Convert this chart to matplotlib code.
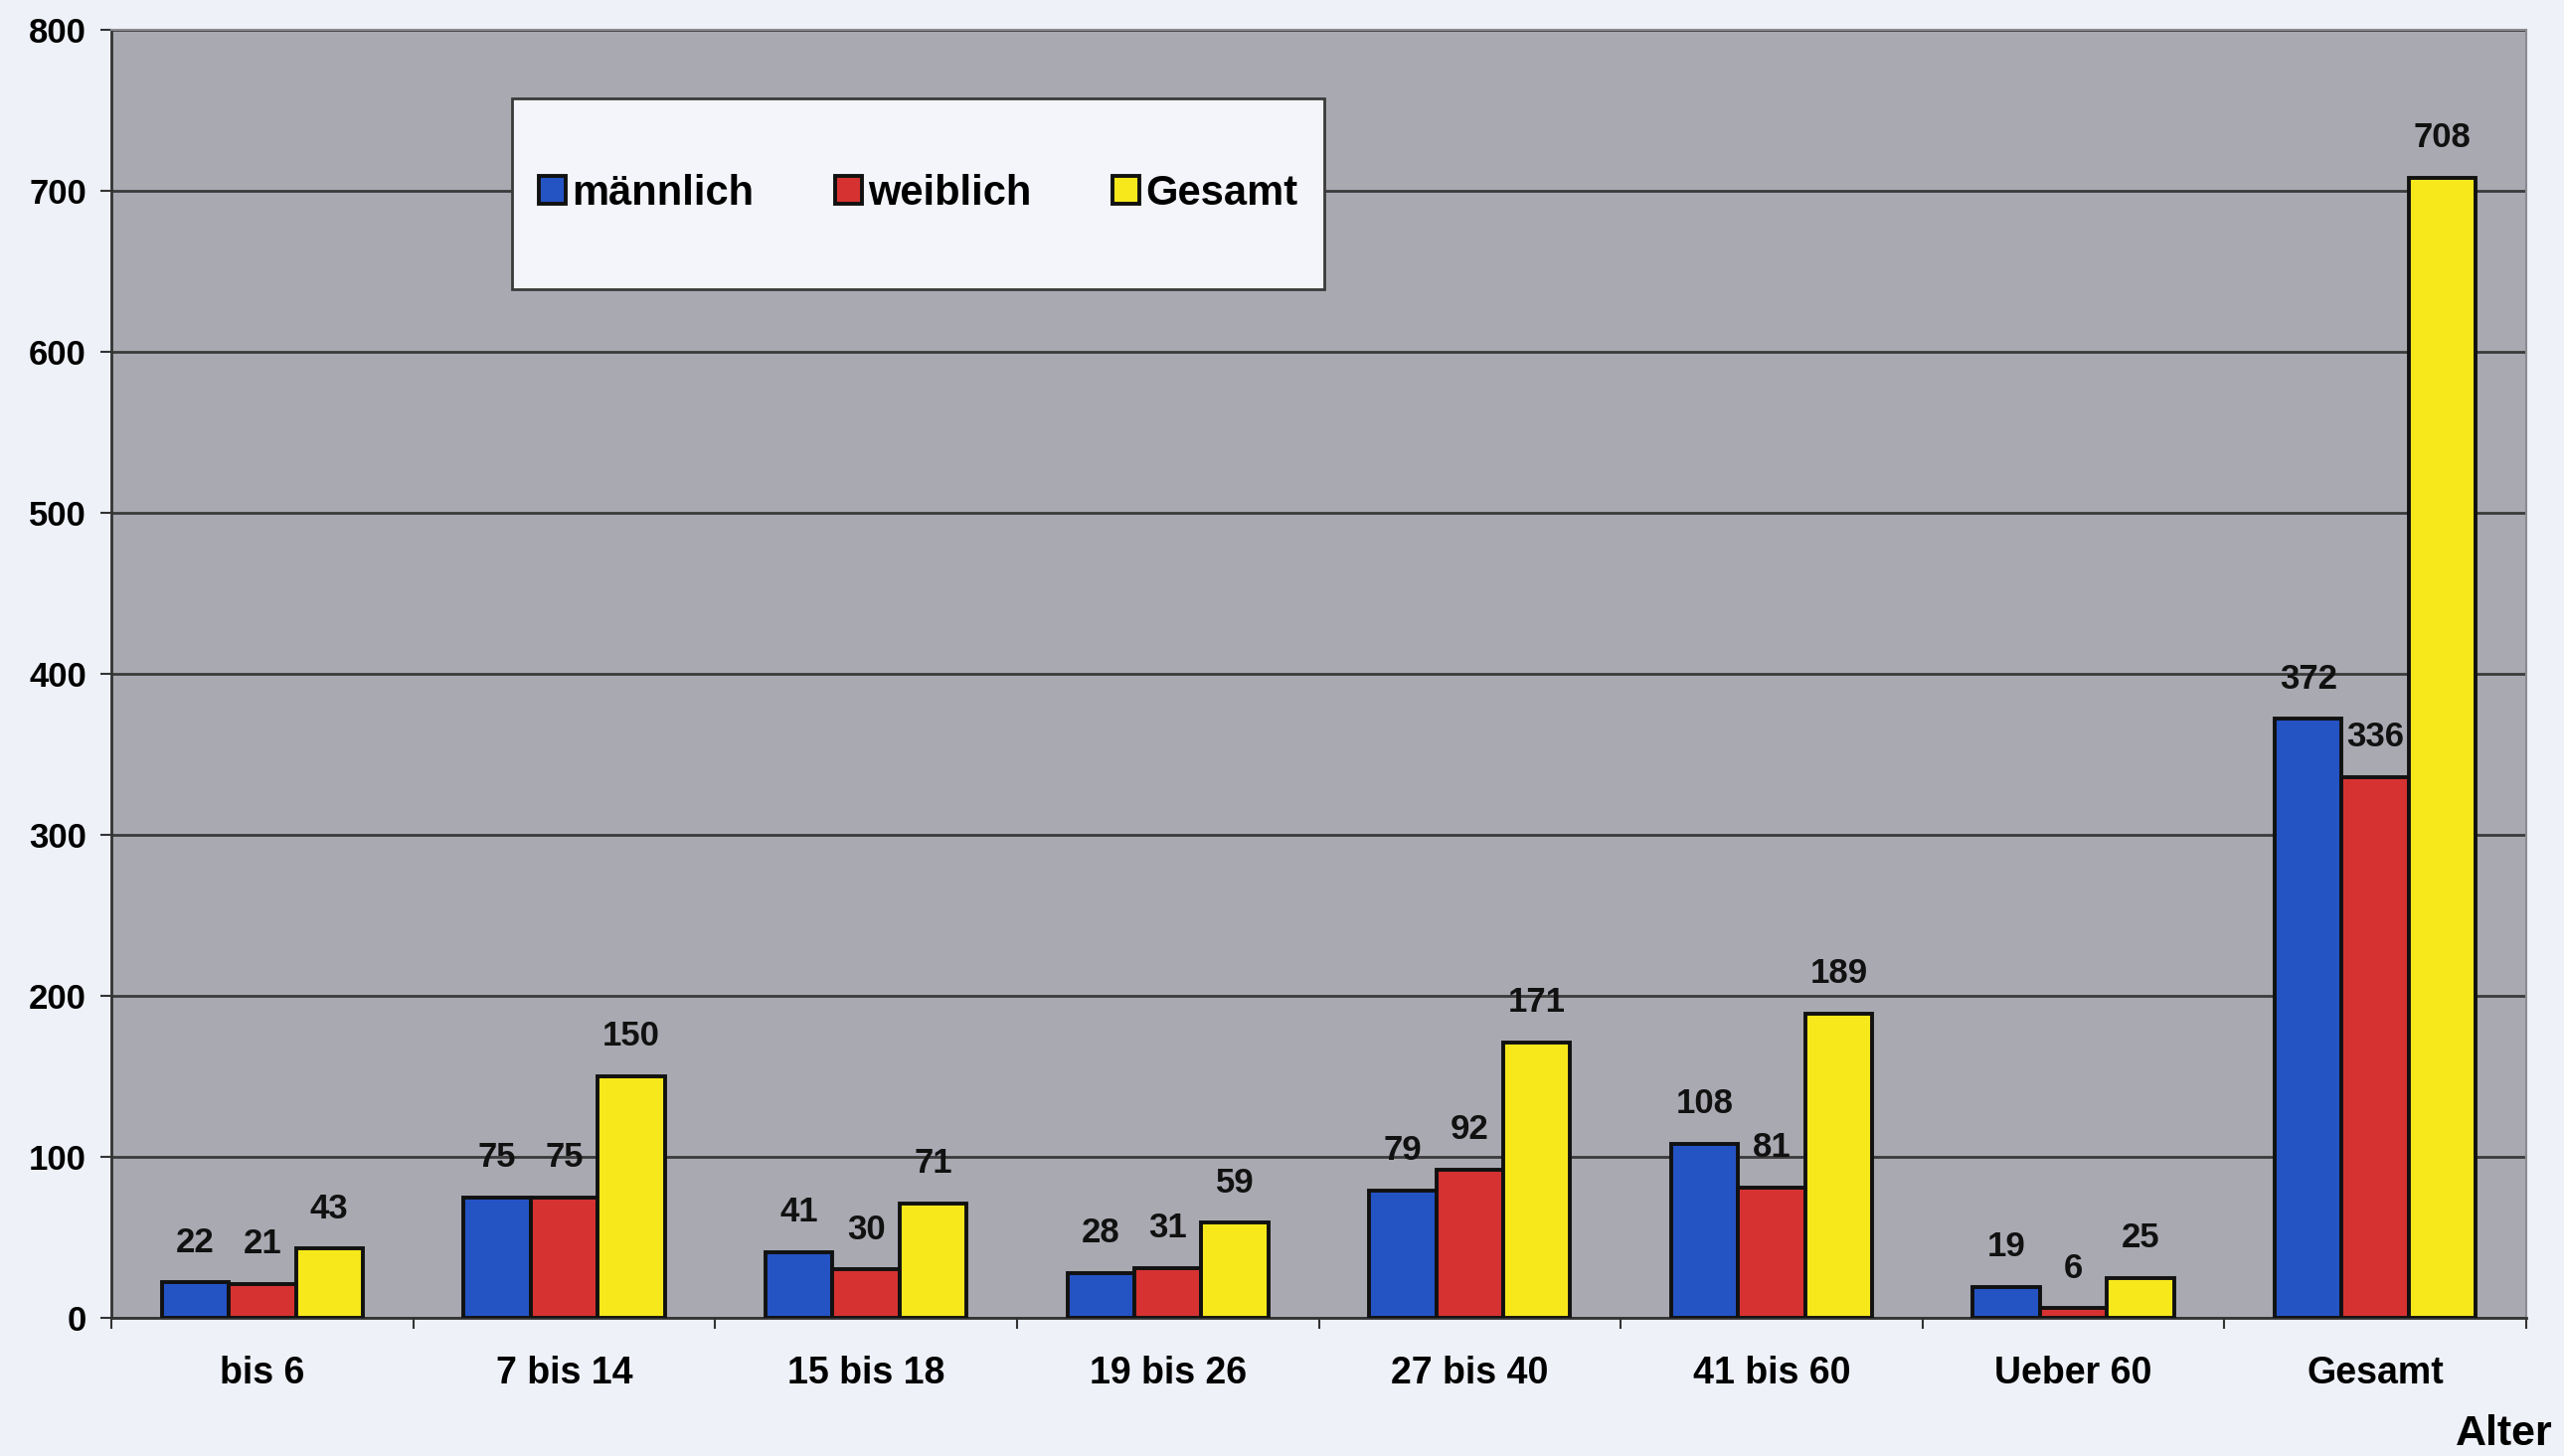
import matplotlib
matplotlib.use("Agg")
import matplotlib.pyplot as plt
import numpy as np
from matplotlib.patches import Rectangle

categories = ["bis 6", "7 bis 14", "15 bis 18", "19 bis 26", "27 bis 40", "41 bis 60", "Ueber 60", "Gesamt"]
maennlich = [22, 75, 41, 28, 79, 108, 19, 372]
weiblich = [21, 75, 30, 31, 92, 81, 6, 336]
gesamt = [43, 150, 71, 59, 171, 189, 25, 708]
series_names = ["männlich", "weiblich", "Gesamt"]
colors = ["#2453c4", "#d63232", "#f7e81c"]
yticks = [0, 100, 200, 300, 400, 500, 600, 700, 800]

plt.rcParams['font.family'] = ['Liberation Sans', 'DejaVu Sans']
plt.rcParams['font.weight'] = 'bold'

fig = plt.figure(figsize=(25.79, 14.65), dpi=100, facecolor="#eef1f8")
ax = fig.add_axes([112/2579, 1 - 1326/1465, (2541-112)/2579, (1326-30)/1465])
ax.set_facecolor("#a9a9b2")

x = np.arange(len(categories))
w = 0.222
data = [maennlich, weiblich, gesamt]
for i, (vals, c, name) in enumerate(zip(data, colors, series_names)):
    pos = x + (i - 1) * w
    bars = ax.bar(pos, vals, width=w, color=c, edgecolor="#111111", linewidth=2.8,
                  label=name, zorder=3)
    for b, v in zip(bars, vals):
        ax.annotate(str(v), (b.get_x() + b.get_width() / 2, v), xytext=(0, 29),
                    textcoords="offset points", ha="center", va="center",
                    fontsize=25, fontweight="bold", color="#111111", zorder=4)

ax.set_xlim(-0.5, len(categories) - 0.5)
ax.set_ylim(0, 800)
ax.set_yticks(yticks)
ax.set_yticklabels([str(t) for t in yticks], fontsize=25, fontweight="bold")
ax.yaxis.grid(True, color="#3a3a3a", linewidth=2, zorder=1)
ax.set_axisbelow(True)

ax.set_xticks(np.arange(-0.5, len(categories) + 0.5, 1.0))
ax.set_xticklabels([])
ax.set_xticks(x, minor=True)
ax.set_xticklabels(categories, minor=True, fontsize=27, fontweight="bold")
ax.tick_params(axis="x", which="minor", length=0, pad=27)
ax.tick_params(axis="x", which="major", length=8, width=1.5, direction="out", color="#333333")
ax.tick_params(axis="y", length=8, width=1.5, direction="out", color="#333333", pad=10)

for s in ["top", "right"]:
    ax.spines[s].set_color("#8a8a90")
    ax.spines[s].set_linewidth(1.5)
ax.spines["left"].set_color("#333333")
ax.spines["left"].set_linewidth(2)
ax.spines["bottom"].set_color("#333333")
ax.spines["bottom"].set_linewidth(2)

# legend box
lx0 = (515 - 112) / 2429
lx1 = (1332 - 112) / 2429
ly1 = 1 - (99 - 30) / 1296
ly0 = 1 - (291 - 30) / 1296
ax.add_patch(Rectangle((lx0, ly0), lx1 - lx0, ly1 - ly0, transform=ax.transAxes,
                       facecolor="#f3f5fa", edgecolor="#3a3a3a", linewidth=2, zorder=5))
leg = ax.legend(loc="center", bbox_to_anchor=((lx0 + lx1) / 2, (ly0 + ly1) / 2),
                ncol=3, frameon=False, handlelength=0.65, handleheight=0.65,
                handletextpad=0.15, columnspacing=1.95, prop={'weight': 'bold', 'size': 30})
leg.set_zorder(6)

fig.text(2568 / 2579, 1 - 1443 / 1465, "Alter", ha="right", va="center",
         fontsize=31, fontweight="bold")

fig.savefig("out.png", dpi=100, facecolor=fig.get_facecolor())
